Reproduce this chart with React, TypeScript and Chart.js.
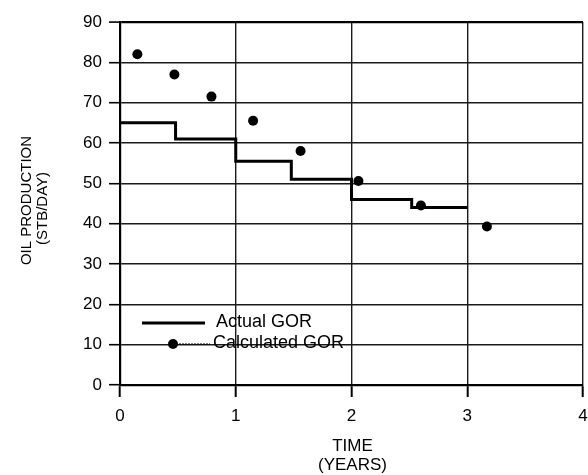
import React, { useEffect, useRef } from "react";
import { Chart, registerables } from "chart.js";

Chart.register(...registerables);

// Actual GOR (step line): segment start times (years) and production (STB/day)
const actualTimes = [0, 0.48, 1.0, 1.48, 2.0, 2.52, 3.0];
const actualValues = [65, 61, 55.5, 51, 46, 44, 44];

// Calculated GOR (points)
const calcTimes = [0.15, 0.47, 0.79, 1.15, 1.56, 2.06, 2.6, 3.17];
const calcValues = [82, 77, 71.5, 65.5, 58, 50.6, 44.5, 39.3];

const xTicks = [0, 1, 2, 3, 4];
const yTicks = [0, 10, 20, 30, 40, 50, 60, 70, 80, 90];

const seriesNames = ["Actual GOR", "Calculated GOR"];
const xTitle = ["TIME", "(YEARS)"];
const yTitle = ["OIL PRODUCTION", "(STB/DAY)"];

const FONT = "'Liberation Sans', Arial, Helvetica, sans-serif";
const INK = "#000";

const overlayPlugin = {
  id: "overlay",
  afterDraw(chart: any) {
    const ctx = chart.ctx as CanvasRenderingContext2D;
    const ca = chart.chartArea;
    ctx.save();
    ctx.fillStyle = INK;
    ctx.strokeStyle = INK;

    // Y title (two rotated lines)
    ctx.font = `15px ${FONT}`;
    ctx.textAlign = "center";
    ctx.textBaseline = "middle";
    const midY = (ca.top + ca.bottom) / 2;
    ctx.save();
    ctx.translate(27, midY - 3);
    ctx.rotate(-Math.PI / 2);
    ctx.fillText(yTitle[0], 0, 0);
    ctx.restore();
    ctx.save();
    ctx.translate(43, midY + 5);
    ctx.rotate(-Math.PI / 2);
    ctx.fillText(yTitle[1], 0, 0);
    ctx.restore();

    // X title
    ctx.font = `17px ${FONT}`;
    const midX = (ca.left + ca.right) / 2;
    ctx.fillText(xTitle[0], midX + 1, ca.bottom + 61);
    ctx.fillText(xTitle[1], midX + 1, ca.bottom + 80);

    // Legend
    const lx0 = ca.left + 22;
    const lx1 = ca.left + 85;
    const ly1 = ca.bottom - 62;
    const ly2 = ca.bottom - 41;
    ctx.lineWidth = 3;
    ctx.beginPath();
    ctx.moveTo(lx0, ly1);
    ctx.lineTo(lx1, ly1);
    ctx.stroke();
    ctx.font = `18px ${FONT}`;
    ctx.textAlign = "left";
    ctx.fillText(seriesNames[0], ca.left + 96, ly1 - 1);

    ctx.lineWidth = 1;
    ctx.setLineDash([2, 1]);
    ctx.beginPath();
    ctx.moveTo(ca.left + 53, ly2);
    ctx.lineTo(ca.left + 90, ly2);
    ctx.stroke();
    ctx.setLineDash([]);
    ctx.beginPath();
    ctx.arc(ca.left + 53, ly2, 5, 0, Math.PI * 2);
    ctx.fill();
    ctx.fillText(seriesNames[1], ca.left + 93, ly2 - 1);
    ctx.restore();
  },
};

export default function App() {
  const canvasRef = useRef<HTMLCanvasElement | null>(null);

  useEffect(() => {
    if (!canvasRef.current) return;
    const chart = new Chart(canvasRef.current, {
      type: "scatter",
      data: {
        datasets: [
          {
            type: "line",
            label: seriesNames[0],
            data: actualTimes.map((t, i) => ({ x: t, y: actualValues[i] })),
            stepped: true,
            borderColor: INK,
            borderWidth: 3,
            pointRadius: 0,
            fill: false,
          } as any,
          {
            label: seriesNames[1],
            data: calcTimes.map((t, i) => ({ x: t, y: calcValues[i] })),
            backgroundColor: INK,
            borderColor: INK,
            pointRadius: 5,
            pointBorderWidth: 0,
          },
        ],
      },
      options: {
        animation: false,
        responsive: false,
        devicePixelRatio: 1,
        layout: { padding: { top: 22, right: 5, left: 0, bottom: 0 } },
        plugins: {
          legend: { display: false },
          tooltip: { enabled: false },
        },
        scales: {
          x: {
            type: "linear",
            min: 0,
            max: 4,
            afterBuildTicks: (s: any) => {
              s.ticks = xTicks.map((v) => ({ value: v }));
            },
            afterFit: (s: any) => {
              s.height = 90;
              s.paddingRight = 0;
              s.paddingLeft = 0;
            },
            ticks: {
              color: INK,
              font: { family: FONT, size: 17 },
              padding: 9,
              maxRotation: 0,
            },
            grid: {
              color: "#1a1a1a",
              lineWidth: 1.4,
              tickLength: 12,
              tickColor: INK,
              tickWidth: 2,
            },
            border: { color: INK, width: 2.2 },
          },
          y: {
            type: "linear",
            min: 0,
            max: 90,
            afterBuildTicks: (s: any) => {
              s.ticks = yTicks.map((v) => ({ value: v }));
            },
            afterFit: (s: any) => {
              s.width = 120;
              s.paddingTop = 0;
              s.paddingBottom = 0;
            },
            ticks: {
              color: INK,
              font: { family: FONT, size: 17 },
              padding: 7,
            },
            grid: {
              color: (c: any) => (c.tick && c.tick.value === 90 ? INK : "#1a1a1a"),
              lineWidth: (c: any) => (c.tick && c.tick.value === 90 ? 2.2 : 1.4),
              tickLength: 11,
              tickColor: INK,
              tickWidth: 1.6,
            },
            border: { color: INK, width: 2.2 },
          },
        },
      },
      plugins: [overlayPlugin],
    });
    return () => chart.destroy();
  }, []);

  return (
    <div
      style={{
        position: "fixed",
        left: 0,
        top: 0,
        width: 588,
        height: 475,
        background: "#fff",
      }}
    >
      <canvas ref={canvasRef} width={588} height={475} style={{ width: 588, height: 475 }} />
    </div>
  );
}
